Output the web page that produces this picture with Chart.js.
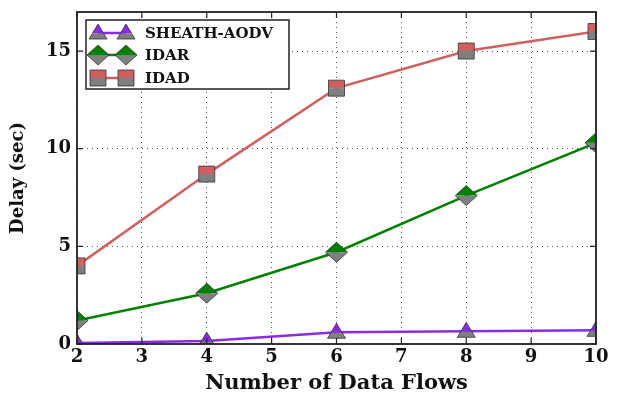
<!DOCTYPE html>
<html>
<head>
<meta charset="utf-8">
<script src="https://cdn.jsdelivr.net/npm/chart.js@4"></script>
<style>
  html, body { margin: 0; padding: 0; background: #fff; }
  #wrap { width: 622px; height: 396px; }
</style>
</head>
<body>
<div id="wrap"><canvas id="delayChart" width="622" height="396"></canvas></div>
<script>
// chart data
const flows = [2, 4, 6, 8, 10];
const sheathAodv = [0.05, 0.15, 0.6, 0.65, 0.7];
const idar = [1.2, 2.6, 4.7, 7.6, 10.3];
const idad = [4.0, 8.7, 13.1, 15.0, 16.0];
const xTicks = [2, 3, 4, 5, 6, 7, 8, 9, 10];
const yTicks = [0, 5, 10, 15];

const FONT = '"DejaVu Serif", "Liberation Serif", serif';
const GRAY = '#7f7f7f';

const series = [
    { label: 'SHEATH-AODV', data: sheathAodv, color: '#8a2be2', marker: 'triangle' },
    { label: 'IDAR', data: idar, color: '#008000', marker: 'diamond' },
    { label: 'IDAD', data: idad, color: '#d06060', marker: 'square' }
];

// marker outline
function markerPath(ctx, shape, x, y) {
    ctx.beginPath();
    if (shape === 'triangle') {
        ctx.moveTo(x, y - 9);
        ctx.lineTo(x + 9, y + 6);
        ctx.lineTo(x - 9, y + 6);
    } else if (shape === 'diamond') {
        ctx.moveTo(x, y - 10);
        ctx.lineTo(x + 11, y);
        ctx.lineTo(x, y + 10);
        ctx.lineTo(x - 11, y);
    } else {
        ctx.rect(x - 8, y - 8, 16, 16);
    }
    ctx.closePath();
}

// top half coloured, bottom half gray
function drawMarker(ctx, shape, x, y, color) {
    const splitY = shape === 'triangle' ? y + 0.5 : y;
    ctx.save();
    markerPath(ctx, shape, x, y);
    ctx.clip();
    ctx.fillStyle = color;
    ctx.fillRect(x - 12, y - 12, 24, splitY - (y - 12));
    ctx.fillStyle = GRAY;
    ctx.fillRect(x - 12, splitY, 24, y + 12 - splitY);
    ctx.restore();
    markerPath(ctx, shape, x, y);
    ctx.lineWidth = 0.8;
    ctx.strokeStyle = '#333';
    ctx.stroke();
}

const markerPlugin = {
    id: 'halfMarkers',
    afterDatasetsDraw(chart) {
        const ctx = chart.ctx;
        const area = chart.chartArea;
        ctx.save();
        ctx.beginPath();
        ctx.rect(area.left, area.top, area.right - area.left, area.bottom - area.top);
        ctx.clip();
        chart.data.datasets.forEach((ds, i) => {
            chart.getDatasetMeta(i).data.forEach(pt => {
                drawMarker(ctx, ds.marker, pt.x, pt.y, ds.borderColor);
            });
        });
        ctx.restore();
    }
};

// frame with inward ticks on all sides
const framePlugin = {
    id: 'frame',
    afterDatasetsDraw(chart) {
        const ctx = chart.ctx;
        const a = chart.chartArea;
        const xs = chart.scales.x, ys = chart.scales.y;
        ctx.save();
        ctx.strokeStyle = '#222';
        ctx.lineWidth = 1.2;
        ctx.beginPath();
        xTicks.forEach(v => {
            const px = xs.getPixelForValue(v);
            ctx.moveTo(px, a.bottom); ctx.lineTo(px, a.bottom - 6);
            ctx.moveTo(px, a.top); ctx.lineTo(px, a.top + 6);
        });
        yTicks.forEach(v => {
            const py = ys.getPixelForValue(v);
            ctx.moveTo(a.left, py); ctx.lineTo(a.left + 6, py);
            ctx.moveTo(a.right, py); ctx.lineTo(a.right - 6, py);
        });
        ctx.stroke();
        ctx.lineWidth = 1.8;
        ctx.strokeRect(a.left, a.top, a.right - a.left, a.bottom - a.top);
        ctx.restore();
    }
};

const legendPlugin = {
    id: 'boxLegend',
    afterDraw(chart) {
        const ctx = chart.ctx;
        ctx.save();
        ctx.fillStyle = '#fff';
        ctx.fillRect(86, 20, 203, 69);
        ctx.strokeStyle = '#222';
        ctx.lineWidth = 1.5;
        ctx.strokeRect(86, 20, 203, 69);
        const rows = [33, 55, 78];
        chart.data.datasets.forEach((ds, i) => {
            const y = rows[i];
            ctx.strokeStyle = ds.borderColor;
            ctx.lineWidth = 2.5;
            ctx.beginPath();
            ctx.moveTo(98, y); ctx.lineTo(126, y);
            ctx.stroke();
            drawMarker(ctx, ds.marker, 98, y, ds.borderColor);
            drawMarker(ctx, ds.marker, 126, y, ds.borderColor);
            ctx.fillStyle = '#111';
            ctx.font = 'bold 15px ' + FONT;
            ctx.textBaseline = 'middle';
            ctx.fillText(ds.label, 145, y + 1);
        });
        ctx.restore();
    }
};

new Chart(document.getElementById('delayChart'), {
    type: 'line',
    data: {
        datasets: series.map(s => ({
            label: s.label,
            data: flows.map((f, i) => ({ x: f, y: s.data[i] })),
            borderColor: s.color,
            backgroundColor: s.color,
            borderWidth: 2.5,
            pointRadius: 0,
            tension: 0,
            marker: s.marker
        }))
    },
    options: {
        responsive: false,
        animation: false,
        layout: { padding: { left: 0, right: 26, top: 12, bottom: 0 } },
        plugins: {
            legend: { display: false },
            tooltip: { enabled: false }
        },
        scales: {
            x: {
                type: 'linear',
                min: 2,
                max: 10,
                afterBuildTicks: axis => { axis.ticks = xTicks.map(v => ({ value: v })); },
                afterFit: axis => {
                    axis.height = 52;
                    axis.paddingLeft = 0;
                    axis.paddingRight = 0;
                },
                grid: {
                    color: '#555',
                    lineWidth: 1,
                    drawTicks: false
                },
                border: { display: false, dash: [1, 4] },
                ticks: {
                    color: '#111',
                    padding: 3,
                    font: { family: FONT, size: 18, weight: 'bold' }
                },
                title: {
                    display: true,
                    text: 'Number of Data Flows',
                    color: '#111',
                    padding: { top: 0, bottom: 0 },
                    font: { family: FONT, size: 21, weight: 'bold' }
                }
            },
            y: {
                min: 0,
                max: 17,
                afterBuildTicks: axis => { axis.ticks = yTicks.map(v => ({ value: v })); },
                afterFit: axis => {
                    axis.width = 77;
                    axis.paddingTop = 0;
                    axis.paddingBottom = 0;
                },
                grid: {
                    color: '#555',
                    lineWidth: 1,
                    drawTicks: false
                },
                border: { display: false, dash: [1, 4] },
                ticks: {
                    color: '#111',
                    padding: 6,
                    font: { family: FONT, size: 18, weight: 'bold' }
                },
                title: {
                    display: true,
                    text: 'Delay (sec)',
                    color: '#111',
                    padding: { top: 8, bottom: 0 },
                    font: { family: FONT, size: 18, weight: 'bold' }
                }
            }
        }
    },
    plugins: [markerPlugin, framePlugin, legendPlugin]
});
</script>
</body>
</html>
